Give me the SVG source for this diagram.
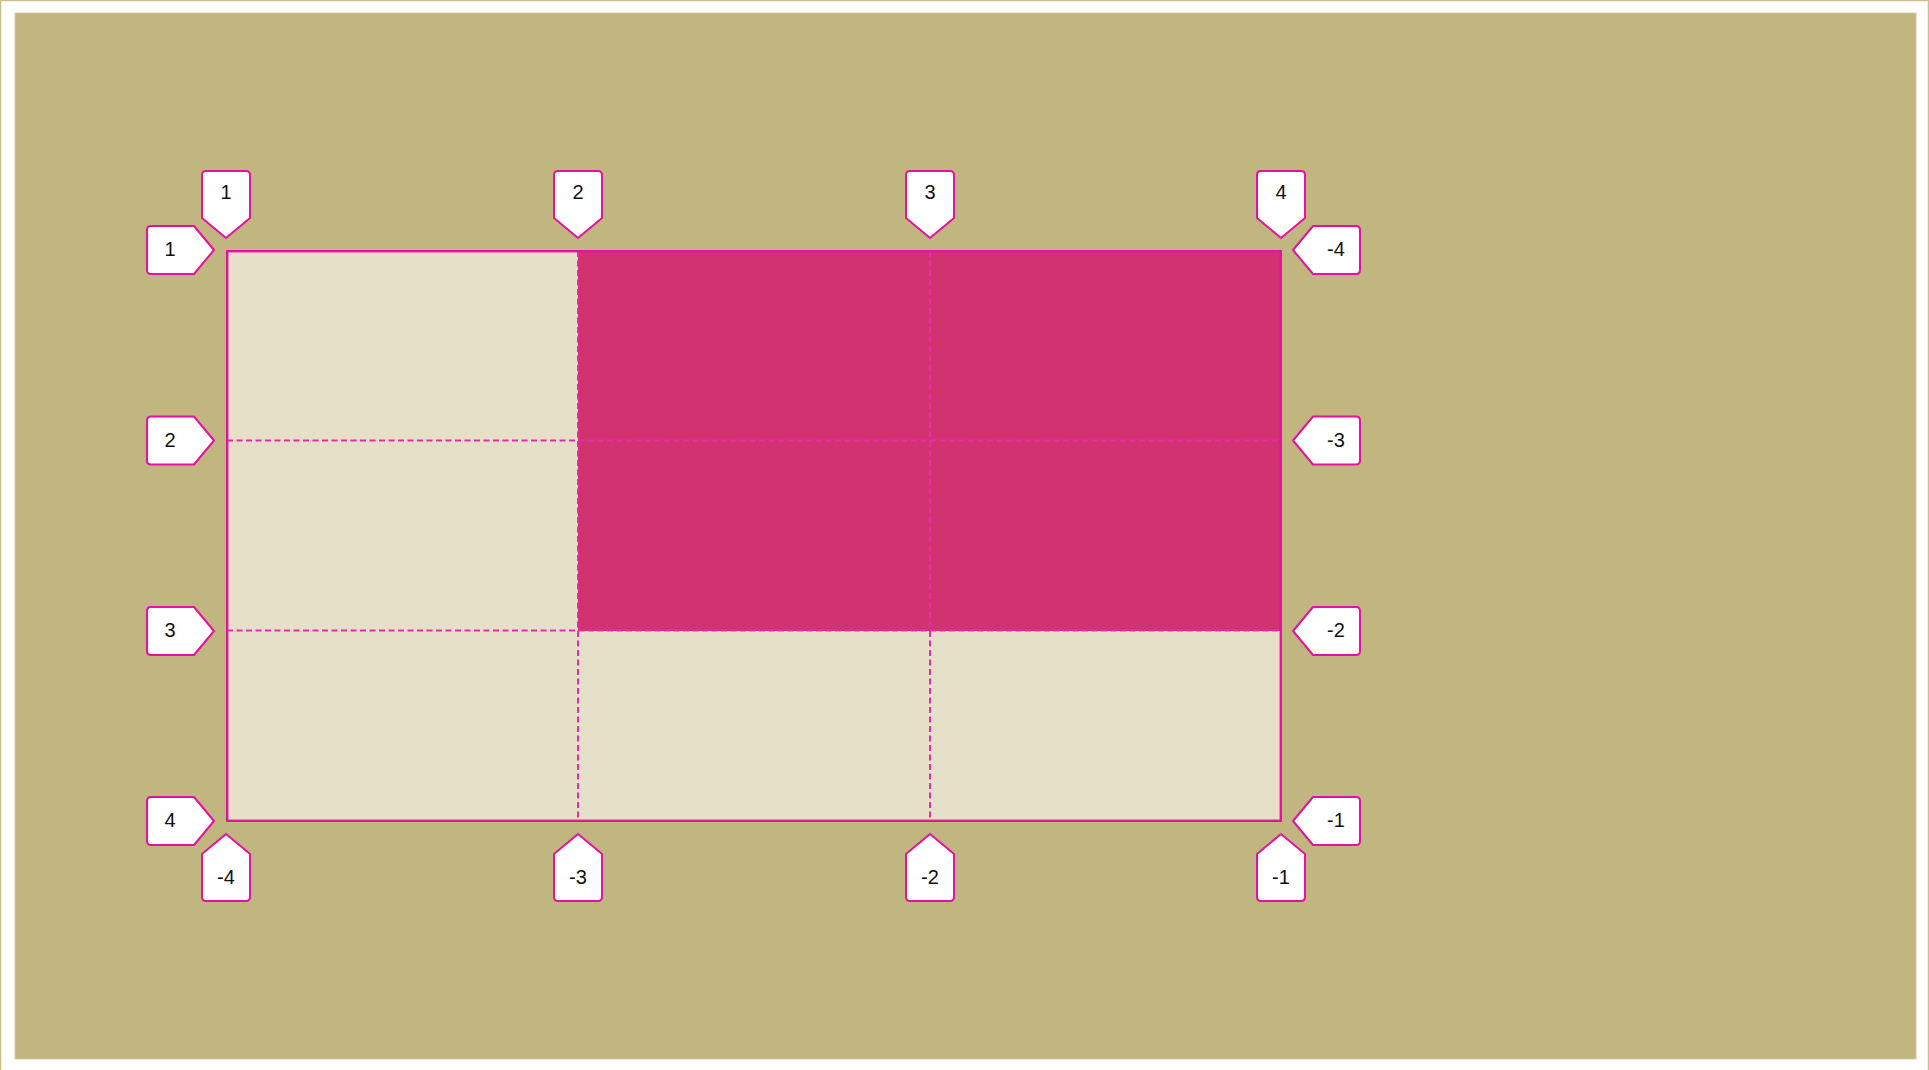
<svg xmlns="http://www.w3.org/2000/svg" width="1929" height="1070" viewBox="0 0 1929 1070">
  <style>
    .lbl { fill: #ffffff; stroke: #e4139f; stroke-width: 2; stroke-linejoin: round; }
    .txt { font-family: "Liberation Sans", Arial, sans-serif; font-size: 20px; fill: #111111; text-anchor: middle; }
    .grid { stroke: #e62aa8; stroke-width: 2; stroke-dasharray: 6 3.5; fill: none; }
  </style>
  <defs>
    <path id="down" d="M0,0 L24,-20 L24,-63 Q24,-67 20,-67 L-20,-67 Q-24,-67 -24,-63 L-24,-20 Z"/>
    <path id="up" d="M0,0 L24,20 L24,63 Q24,67 20,67 L-20,67 Q-24,67 -24,63 L-24,20 Z"/>
    <path id="right" d="M0,0 L-20,-24 L-63,-24 Q-67,-24 -67,-20 L-67,20 Q-67,24 -63,24 L-20,24 Z"/>
    <path id="left" d="M0,0 L20,-24 L63,-24 Q67,-24 67,-20 L67,20 Q67,24 63,24 L20,24 Z"/>
  </defs>
  <!-- page frame -->
  <rect x="0" y="0" width="1929" height="1070" fill="#ffffff"/>
  <rect x="0.5" y="0.5" width="1928" height="1080" fill="none" stroke="#c9bf8c" stroke-width="1.5"/>
  <rect x="15" y="13" width="1901" height="1046" fill="#c1b67f" stroke="#d3cba0" stroke-width="1"/>

  <!-- grid container -->
  <g id="grid">
    <rect x="227" y="251" width="1054" height="570" fill="#e6e0c9"/>
    <rect x="578" y="251" width="703" height="380" fill="#d33270"/>
    <line class="grid" x1="578" y1="251" x2="578" y2="821"/>
    <line class="grid" x1="930" y1="251" x2="930" y2="821"/>
    <line class="grid" x1="227" y1="440.5" x2="1281" y2="440.5"/>
    <line class="grid" x1="227" y1="630.5" x2="1281" y2="630.5"/>
    <rect x="227.2" y="251.2" width="1053.6" height="569.6" fill="none" stroke="#e4139f" stroke-width="2.4"/>
  </g>

  <!-- top column labels -->
  <g id="col-top-1" transform="translate(226,238)"><use href="#down" class="lbl"/><text class="txt" x="0" y="-39">1</text></g>
  <g id="col-top-2" transform="translate(578,238)"><use href="#down" class="lbl"/><text class="txt" x="0" y="-39">2</text></g>
  <g id="col-top-3" transform="translate(930,238)"><use href="#down" class="lbl"/><text class="txt" x="0" y="-39">3</text></g>
  <g id="col-top-4" transform="translate(1281,238)"><use href="#down" class="lbl"/><text class="txt" x="0" y="-39">4</text></g>

  <!-- bottom column labels -->
  <g id="col-bot-1" transform="translate(226,834)"><use href="#up" class="lbl"/><text class="txt" x="0" y="50">-4</text></g>
  <g id="col-bot-2" transform="translate(578,834)"><use href="#up" class="lbl"/><text class="txt" x="0" y="50">-3</text></g>
  <g id="col-bot-3" transform="translate(930,834)"><use href="#up" class="lbl"/><text class="txt" x="0" y="50">-2</text></g>
  <g id="col-bot-4" transform="translate(1281,834)"><use href="#up" class="lbl"/><text class="txt" x="0" y="50">-1</text></g>

  <!-- left row labels -->
  <g id="row-left-1" transform="translate(214,250)"><use href="#right" class="lbl"/><text class="txt" x="-44" y="6">1</text></g>
  <g id="row-left-2" transform="translate(214,440.5)"><use href="#right" class="lbl"/><text class="txt" x="-44" y="6">2</text></g>
  <g id="row-left-3" transform="translate(214,631)"><use href="#right" class="lbl"/><text class="txt" x="-44" y="6">3</text></g>
  <g id="row-left-4" transform="translate(214,821)"><use href="#right" class="lbl"/><text class="txt" x="-44" y="6">4</text></g>

  <!-- right row labels -->
  <g id="row-right-1" transform="translate(1293,250)"><use href="#left" class="lbl"/><text class="txt" x="43" y="6">-4</text></g>
  <g id="row-right-2" transform="translate(1293,440.5)"><use href="#left" class="lbl"/><text class="txt" x="43" y="6">-3</text></g>
  <g id="row-right-3" transform="translate(1293,631)"><use href="#left" class="lbl"/><text class="txt" x="43" y="6">-2</text></g>
  <g id="row-right-4" transform="translate(1293,821)"><use href="#left" class="lbl"/><text class="txt" x="43" y="6">-1</text></g>
</svg>
